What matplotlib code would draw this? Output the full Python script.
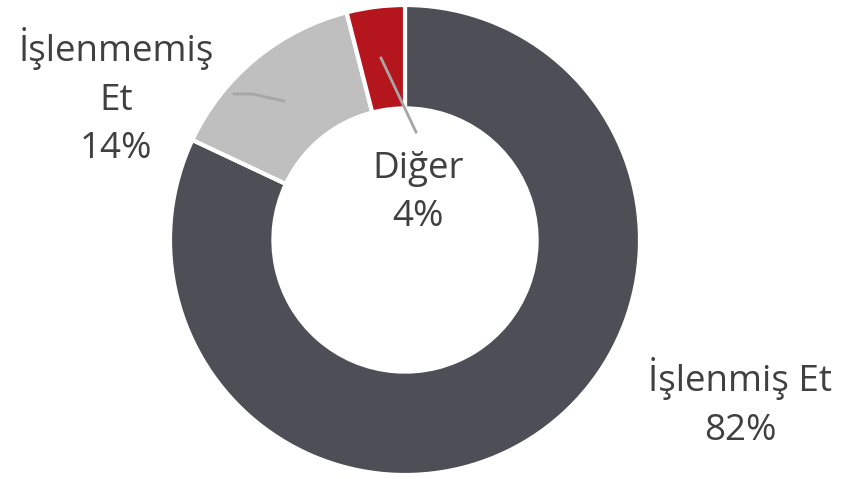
import matplotlib.pyplot as plt

categories = ['İşlenmiş Et', 'İşlenmemiş\nEt', 'Diğer']
shares = [82, 14, 4]
colors = ['#4D4E56', '#BFBFBF', '#B5161E']

W, H = 841, 479
cx, cy, R = 405, 240, 235   # donut centre and radius in pixels


def px(x, y):
    # pixel position -> data units (radius = 1)
    return (x - cx) / R, (cy - y) / R


fig = plt.figure(figsize=(W / 100, H / 100), dpi=100)
ax = fig.add_axes([0, 0, 1, 1])
ax.pie(shares, colors=colors, startangle=90, counterclock=False, radius=1,
       wedgeprops=dict(width=0.44, edgecolor='white', linewidth=3))
ax.set_xlim(-cx / R, (W - cx) / R)
ax.set_ylim(-(H - cy) / R, cy / R)
ax.set_aspect('equal')
ax.axis('off')

# leader lines
ax.plot(*zip(px(381, 58), px(416, 132)), color='#A6A6A6', lw=2)
ax.plot(*zip(px(234, 94), px(252, 94), px(284, 101)), color='#A6A6A6', lw=2)

txt = dict(ha='center', va='center', color='#404040', fontsize=26.5,
           family='Open Sans', linespacing=1.45)
label_pos = [(740, 403), (116, 97), (418, 193)]
for name, val, (x, y) in zip(categories, shares, label_pos):
    ax.text(*px(x, y), f'{name}\n{val}%', **txt)

fig.savefig('out.png', dpi=100)
